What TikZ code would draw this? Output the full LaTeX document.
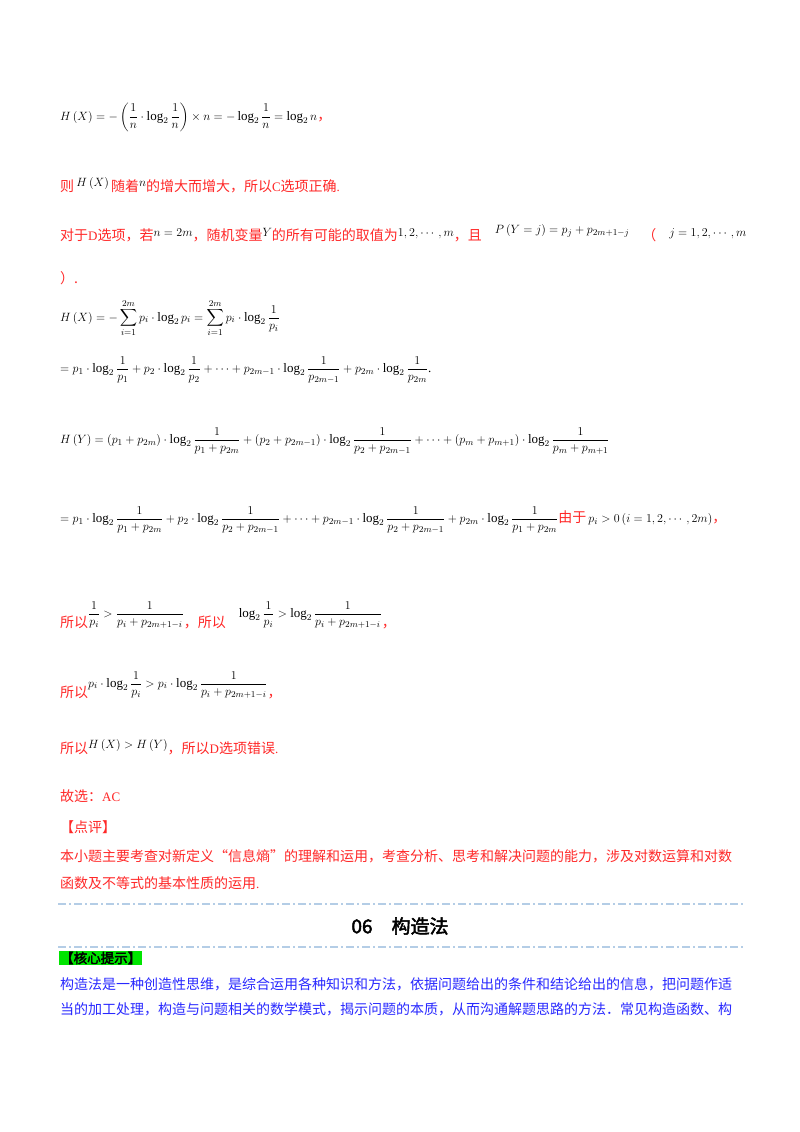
\documentclass[tikz,border=0pt]{standalone}
\usepackage{amsmath}
\usepackage{fontspec}
\setmainfont{Liberation Serif}
\newfontfamily\cjk{Noto Sans CJK SC}
\newfontfamily\cjkb{Noto Sans CJK SC}[FakeBold=2.5]
\definecolor{rd}{RGB}{255,40,40}
\definecolor{bl}{RGB}{40,40,255}
\definecolor{dlc}{RGB}{180,205,230}
\tikzset{ln/.style={anchor=west,inner sep=0pt,font=\fontsize{13}{16}\selectfont},
 rt/.style={ln,text=rd},
 dashl/.style={draw=dlc,line width=1.8pt,dash pattern=on 8pt off 3pt on 2pt off 3pt}}
\newcommand{\C}[1]{{\cjk\fontsize{14}{16}\selectfont #1}}
\begin{document}
\begin{tikzpicture}[x=1pt,y=-1pt]
\useasboundingbox[fill=white] (0,0) rectangle (800,1132);
\node[ln] (l1) at (60,117) {$H\left(X\right)=-\left(\dfrac1n\cdot\log_2\dfrac1n\right)\times n=-\log_2\dfrac1n=\log_2 n$\textcolor{rd}{\C{，}}};
\node[rt] (l2) at (60,185) {\C{则}\,\raisebox{5pt}{\color{black}$H\left(X\right)$}\,\C{随着}\raisebox{5pt}{\color{black}$n$}\C{的增大而增大，所以}C\C{选项正确}.};
\node[rt] (l3) at (60,233) {\C{对于}D\C{选项，若}\raisebox{4pt}{\color{black}$n=2m$}\C{，随机变量}\raisebox{4pt}{\color{black}$Y$}\C{的所有可能的取值为}\raisebox{4pt}{\color{black}$1,2,\cdots,m$}\C{，且}\quad\raisebox{7pt}{\color{black}$P\left(Y=j\right)=p_j+p_{2m+1-j}$}\quad\C{（}\quad\raisebox{4pt}{\color{black}$j=1,2,\cdots,m$}};
\node[rt] (l4) at (60,278) {\C{）.}};
\node[ln] (l5) at (60,318) {$\displaystyle H\left(X\right)=-\sum_{i=1}^{2m}p_i\cdot\log_2 p_i=\sum_{i=1}^{2m}p_i\cdot\log_2\frac{1}{p_i}$};
\node[ln] (l6) at (60,370) {$=p_1\cdot\log_2\dfrac1{p_1}+p_2\cdot\log_2\dfrac1{p_2}+\cdots+p_{2m-1}\cdot\log_2\dfrac1{p_{2m-1}}+p_{2m}\cdot\log_2\dfrac1{p_{2m}}$.};
\node[ln] (l7) at (60,441) {$H\left(Y\right)=\left(p_1+p_{2m}\right)\cdot\log_2\dfrac{1}{p_1+p_{2m}}+\left(p_2+p_{2m-1}\right)\cdot\log_2\dfrac{1}{p_2+p_{2m-1}}+\cdots+\left(p_m+p_{m+1}\right)\cdot\log_2\dfrac{1}{p_m+p_{m+1}}$};
\node[ln] (l8) at (60,520) {$=p_1\cdot\log_2\dfrac{1}{p_1+p_{2m}}+p_2\cdot\log_2\dfrac{1}{p_2+p_{2m-1}}+\cdots+p_{2m-1}\cdot\log_2\dfrac{1}{p_2+p_{2m-1}}+p_{2m}\cdot\log_2\dfrac{1}{p_1+p_{2m}}$\textcolor{rd}{\C{由于}}\,$p_i>0\left(i=1,2,\cdots,2m\right)$\textcolor{rd}{\C{，}}};
\node[rt] (l9) at (60,615) {\C{所以}\raisebox{10pt}{\color{black}$\dfrac1{p_i}>\dfrac1{p_i+p_{2m+1-i}}$}\C{，所以}\quad\raisebox{10pt}{\color{black}$\log_2\dfrac1{p_i}>\log_2\dfrac1{p_i+p_{2m+1-i}}$}\C{，}};
\node[rt] (l10) at (60,685) {\C{所以}\raisebox{10pt}{\color{black}$p_i\cdot\log_2\dfrac1{p_i}>p_i\cdot\log_2\dfrac1{p_i+p_{2m+1-i}}$}\C{，}};
\node[rt] (l11) at (60,747) {\C{所以}\raisebox{5pt}{\color{black}$H\left(X\right)>H\left(Y\right)$}\C{，所以}D\C{选项错误}.};
\node[rt] (l12) at (60,796) {\C{故选：}AC};
\node[rt] (l13) at (60,827) {\C{【点评】}};
\node[rt] (l14) at (60,856) {\C{本小题主要考查对新定义“信息熵”的理解和运用，考查分析、思考和解决问题的能力，涉及对数运算和对数}};
\node[rt] (l15) at (60,883) {\C{函数及不等式的基本性质的运用}.};
\coordinate (d1a) at (58,904); \coordinate (d1b) at (745,904);
\draw[dashl] (d1a) -- (d1b);
\node[inner sep=0pt,font=\fontsize{19}{22}\selectfont] (title) at (400,926) {\cjkb 06\quad 构造法};
\coordinate (d2a) at (58,947); \coordinate (d2b) at (745,947);
\draw[dashl] (d2a) -- (d2b);
\node[ln,fill=green!90!black,inner sep=1pt] (tip) at (59,958) {\cjkb\fontsize{13.5}{15}\selectfont 【核心提示】};
\node[ln,text=bl] (b1) at (60,984) {\C{构造法是一种创造性思维，是综合运用各种知识和方法，依据问题给出的条件和结论给出的信息，把问题作适}};
\node[ln,text=bl] (b2) at (60,1009) {\C{当的加工处理，构造与问题相关的数学模式，揭示问题的本质，从而沟通解题思路的方法．常见构造函数、构}};
\end{tikzpicture}
\end{document}
